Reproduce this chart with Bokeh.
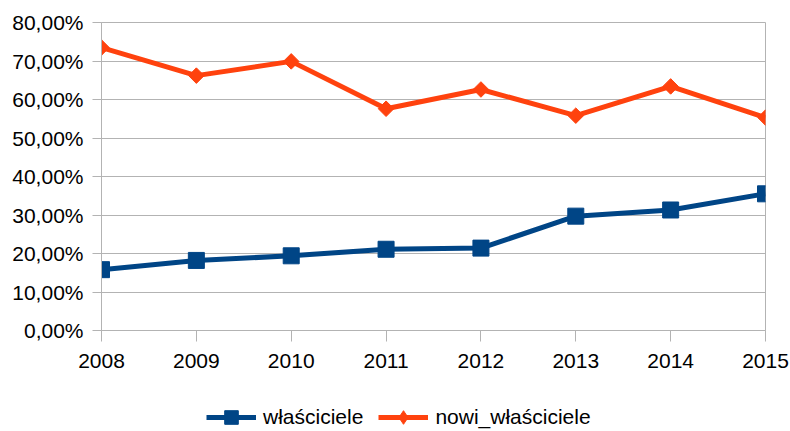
import math
from bokeh.plotting import figure
from bokeh.layouts import column
from bokeh.models import Legend, LegendItem, FixedTicker, Range1d
from bokeh.embed import file_html
from bokeh.resources import INLINE

years = [2008, 2009, 2010, 2011, 2012, 2013, 2014, 2015]
wlasciciele = [0.158, 0.182, 0.194, 0.211, 0.214, 0.297, 0.313, 0.355]
nowi_wlasciciele = [0.735, 0.662, 0.699, 0.576, 0.626, 0.558, 0.634, 0.553]
y_ticks = [0.0, 0.1, 0.2, 0.3, 0.4, 0.5, 0.6, 0.7, 0.8]
y_tick_labels = ["0,00%", "10,00%", "20,00%", "30,00%", "40,00%", "50,00%", "60,00%", "70,00%", "80,00%"]
year_labels = ["2008", "2009", "2010", "2011", "2012", "2013", "2014", "2015"]
series_names = ["właściciele", "nowi_właściciele"]

BLUE = "#004586"
ORANGE = "#ff420e"
GRID = "#b3b3b3"
FONT = "Liberation Sans"

p = figure(width=790, height=380, output_backend="svg", toolbar_location=None,
           x_range=Range1d(2008, 2015), y_range=Range1d(0, 0.8),
           min_border_left=101, min_border_top=22, min_border_right=25, min_border_bottom=50)

p.outline_line_color = GRID
p.background_fill_color = "white"
p.border_fill_color = "white"

p.xgrid.grid_line_color = None
p.ygrid.grid_line_color = GRID
p.ygrid.ticker = FixedTicker(ticks=y_ticks)

p.yaxis.ticker = FixedTicker(ticks=y_ticks)
p.yaxis.major_label_overrides = {t: l for t, l in zip(y_ticks, y_tick_labels)}
p.xaxis.ticker = FixedTicker(ticks=years)
p.xaxis.major_label_overrides = {y: l for y, l in zip(years, year_labels)}

for ax in (p.xaxis[0], p.yaxis[0]):
    ax.axis_line_color = GRID
    ax.major_tick_line_color = GRID
    ax.minor_tick_line_color = None
    ax.major_tick_in = 0
    ax.major_label_text_font = FONT
    ax.major_label_text_font_size = "21px"
    ax.major_label_text_color = "black"
p.yaxis.major_tick_out = 9
p.yaxis.major_label_standoff = 9
p.xaxis.major_tick_out = 11
p.xaxis.major_label_standoff = 12

p.line(years, wlasciciele, line_color=BLUE, line_width=5)
p.scatter(years, wlasciciele, marker="square", size=16, fill_color=BLUE, line_color=BLUE)
p.line(years, nowi_wlasciciele, line_color=ORANGE, line_width=5)
p.scatter(years, nowi_wlasciciele, marker="square", angle=math.pi / 4, size=11,
          fill_color=ORANGE, line_color=ORANGE)

# legend strip below the chart (same series, drawn out of view; only the legend shows)
lg = figure(width=790, height=51, output_backend="svg", toolbar_location=None,
            x_range=Range1d(0, 1), y_range=Range1d(0, 1),
            x_axis_location=None, y_axis_location=None,
            min_border_left=0, min_border_right=0, min_border_top=0, min_border_bottom=0)
lg.grid.visible = False
lg.outline_line_color = None
lg.border_fill_color = "white"

e1 = lg.line(years, wlasciciele, line_color=BLUE, line_width=5)
s1 = lg.scatter(years, wlasciciele, marker="square", size=16, fill_color=BLUE, line_color=BLUE)
e2 = lg.line(years, nowi_wlasciciele, line_color=ORANGE, line_width=5)
s2 = lg.scatter(years, nowi_wlasciciele, marker="diamond", size=16,
                fill_color=ORANGE, line_color=ORANGE)

legend = Legend(items=[LegendItem(label=series_names[0], renderers=[e1, s1]),
                       LegendItem(label=series_names[1], renderers=[e2, s2])],
                orientation="horizontal", location=(105, -3),
                label_text_font=FONT, label_text_font_size="21px", label_text_color="black",
                glyph_width=50, glyph_height=34, label_standoff=7, spacing=15,
                border_line_color=None, background_fill_alpha=0, padding=0, margin=0)
lg.add_layout(legend, "center")

layout = column(p, lg, spacing=0)
open("out.html", "w").write(file_html(layout, INLINE))
